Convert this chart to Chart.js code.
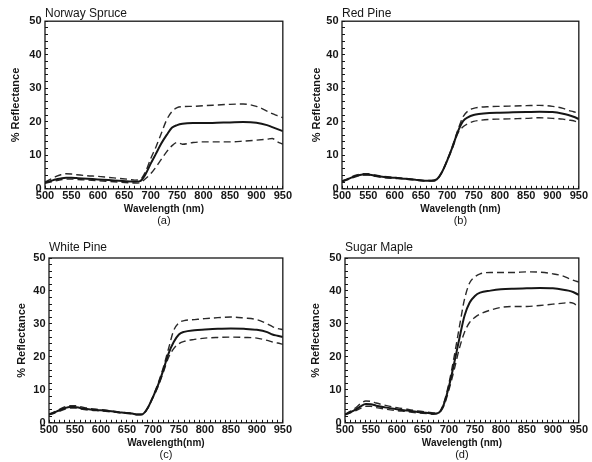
<!DOCTYPE html>
<html><head><meta charset="utf-8">
<script src="https://cdn.jsdelivr.net/npm/chart.js@4.4.0/dist/chart.umd.min.js"></script>
<style>
html,body{margin:0;padding:0;background:#fff;}
#wrap{position:relative;width:592px;height:462px;background:#fff;overflow:hidden;}
.panel{position:absolute;width:296px;height:231px;}
canvas{display:block;}
</style></head><body>
<div id="wrap">
<div class="panel" style="left:0;top:0"><canvas id="c0" width="296" height="231"></canvas></div>
<div class="panel" style="left:296px;top:0"><canvas id="c1" width="296" height="231"></canvas></div>
<div class="panel" style="left:0;top:231px"><canvas id="c2" width="296" height="231"></canvas></div>
<div class="panel" style="left:296px;top:231px"><canvas id="c3" width="296" height="231"></canvas></div>
</div>
<script>
// ---- data ----
const wavelength = [500,510,520,530,540,550,560,580,600,620,640,660,670,680,690,700,710,720,730,740,750,760,780,800,825,850,875,900,920,930,940,950];

const spruceMean  = [1.9,2.3,2.8,3.1,3.3,3.3,3.2,3.0,2.8,2.6,2.4,2.2,2.1,2.3,4.3,7.5,10.5,13.5,16,18.2,19.0,19.4,19.6,19.6,19.7,19.8,19.9,19.7,19.0,18.4,17.8,17.2];
const spruceUpper = [2.0,2.8,3.6,4.2,4.5,4.4,4.2,3.9,3.7,3.4,3.1,2.8,2.6,2.8,5,9,12.5,16.5,20.5,23,24.2,24.5,24.6,24.8,25.0,25.2,25.3,24.6,23.2,22.4,21.8,21.2];
const spruceLower = [1.6,2.0,2.4,2.7,2.9,2.9,2.8,2.6,2.4,2.2,2.0,1.8,1.7,1.8,3,4.5,6.5,8.8,11,12.8,13.8,13.3,13.8,14,14,14,14.2,14.5,14.8,15,14,13.3];

const redMean  = [2.2,2.8,3.5,4.0,4.3,4.3,4.0,3.5,3.3,3.0,2.7,2.4,2.4,2.8,5,8.5,12.5,17,20.2,21.4,22,22.3,22.6,22.7,22.8,22.9,23.0,22.9,22.4,22,21.5,20.8];
const redUpper = [2.3,2.9,3.7,4.2,4.5,4.5,4.2,3.7,3.4,3.1,2.8,2.5,2.5,2.8,5,8.6,12.8,17.5,21.5,23.3,24,24.3,24.5,24.6,24.7,24.8,24.9,24.6,24,23.4,23,22.5];
const redLower = [2.1,2.7,3.3,3.8,4.1,4.1,3.8,3.3,3.1,2.9,2.6,2.3,2.3,2.7,4.9,8.4,12.2,16.5,18.5,19.5,20.1,20.4,20.7,20.8,20.9,21.0,21.2,21.0,20.8,20.5,20.3,19.6];

const whiteMean  = [2.5,3.1,3.8,4.4,4.8,4.8,4.5,4.0,3.8,3.5,3.1,2.8,2.5,2.6,4.5,7.8,11.5,16,21,24.5,26.8,27.6,28.1,28.3,28.5,28.6,28.5,28.2,27.5,26.8,26.4,26.0];
const whiteUpper = [2.6,3.3,4.1,4.8,5.2,5.2,4.9,4.3,4.0,3.6,3.2,2.9,2.6,2.6,4.6,8,12,16.8,22.5,28,30.3,31,31.3,31.6,31.9,32.1,31.8,31.3,30,29.2,28.6,28.3];
const whiteLower = [2.4,2.9,3.5,4.1,4.5,4.5,4.2,3.8,3.6,3.3,3.0,2.7,2.4,2.5,4.4,7.6,11,15.3,19.8,22.5,24,24.7,25.3,25.7,25.9,26.0,25.9,25.7,25,24.5,24.2,23.8];

const mapleMean  = [2.5,3.2,4.0,5.0,5.7,5.6,5.2,4.6,4.1,3.7,3.3,3.0,2.8,3.0,5.5,11,18,25.5,32.5,36.5,38.5,39.5,40.1,40.5,40.7,40.8,40.9,40.8,40.4,40.1,39.6,38.8];
const mapleUpper = [2.6,3.5,4.5,5.8,6.6,6.5,6.0,5.2,4.6,4.1,3.6,3.2,3.0,3.1,6,12,20,29,37.5,42.5,44.3,45.2,45.6,45.6,45.6,45.8,45.7,45.2,44.5,43.8,43.2,42.7];
const mapleLower = [2.4,3.0,3.6,4.4,5.0,5.0,4.6,4.1,3.7,3.4,3.0,2.8,2.6,2.9,5,10,16,22.5,27.5,30.5,32,33,34.2,35,35.3,35.3,35.6,36,36.3,36.5,36.2,35];

const panelTitles = ['Norway Spruce','Red Pine','White Pine','Sugar Maple'];
const panelLetters = ['(a)','(b)','(c)','(d)'];
const xAxisTitles = ['Wavelength (nm)','Wavelength (nm)','Wavelength(nm)','Wavelength (nm)'];
const yAxisTitle = '% Reflectance';
const xTickLabels = [500,550,600,650,700,750,800,850,900,950];
const yTickLabels = [0,10,20,30,40,50];
const panelSeries = [
  [spruceMean, spruceUpper, spruceLower],
  [redMean, redUpper, redLower],
  [whiteMean, whiteUpper, whiteLower],
  [mapleMean, mapleUpper, mapleLower]
];

// ---- layout (pixels, per panel) ----
const panelLayout = [
  {left:45, right:13, titleTop:6.8, titleBottom:0,   yTitlePad:9.4, padBottom:3},
  {left:46, right:13, titleTop:6.8, titleBottom:0,   yTitlePad:14,  padBottom:3},
  {left:49, right:9,  titleTop:9.8, titleBottom:2.8, yTitlePad:15,  padBottom:0},
  {left:49, right:13, titleTop:9.8, titleBottom:2.8, yTitlePad:13.5,padBottom:0}
];

const FONT = "'Liberation Sans', Arial, sans-serif";
const INK = '#161616';

const framePlugin = {
  id: 'frame',
  afterDatasetsDraw(chart) {
    const {ctx, chartArea: a} = chart;
    ctx.save();
    ctx.strokeStyle = INK;
    ctx.lineWidth = 1.3;
    ctx.strokeRect(a.left, a.top, a.right - a.left, a.bottom - a.top);
    ctx.restore();
  }
};

function makeSet(vals, label, dashed) {
  return {
    label: label,
    data: wavelength.map((w, i) => ({x: w, y: vals[i]})),
    borderColor: dashed ? '#2a2a2a' : INK,
    borderWidth: dashed ? 1.4 : 2,
    borderDash: dashed ? [7, 4] : [],
    pointRadius: 0,
    fill: false,
    cubicInterpolationMode: 'monotone'
  };
}

panelSeries.forEach((series, p) => {
  const lay = panelLayout[p];
  new Chart(document.getElementById('c' + p), {
    type: 'line',
    data: {
      datasets: [
        makeSet(series[0], 'Mean', false),
        makeSet(series[1], 'Mean + 1 SD', true),
        makeSet(series[2], 'Mean - 1 SD', true)
      ]
    },
    options: {
      responsive: false,
      animation: false,
      devicePixelRatio: 1,
      layout: {padding: {left: 0, right: lay.right, top: 0, bottom: lay.padBottom}},
      plugins: {
        legend: {display: false},
        tooltip: {enabled: false},
        title: {
          display: true, text: panelTitles[p], align: 'start', fullSize: false,
          color: INK, font: {family: FONT, size: 12, weight: 'normal'},
          padding: {top: lay.titleTop, bottom: lay.titleBottom}
        },
        subtitle: {
          display: true, text: panelLetters[p], position: 'bottom', fullSize: false,
          color: INK, font: {family: FONT, size: 11, weight: 'normal'},
          padding: {top: 0, bottom: 0}
        }
      },
      scales: {
        x: {
          type: 'linear', min: 500, max: 950,
          border: {display: false},
          grid: {display: true, drawOnChartArea: false, drawTicks: true, tickLength: -3, color: INK, tickColor: INK, tickWidth: 1},
          ticks: {
            stepSize: 10, autoSkip: false, maxRotation: 0, minRotation: 0, padding: 4,
            color: INK, font: {family: FONT, size: 11, weight: 'bold'},
            callback: (v) => xTickLabels.includes(v) ? String(v) : ''
          },
          title: {display: true, text: xAxisTitles[p], color: INK, font: {family: FONT, size: 10, weight: 'bold'}, padding: {top: 0, bottom: 0}},
          afterFit: (s) => { s.height = 26; }
        },
        y: {
          type: 'linear', min: 0, max: 50,
          border: {display: false},
          grid: {display: true, drawOnChartArea: false, drawTicks: true, tickLength: -3, color: INK, tickColor: INK, tickWidth: 1},
          ticks: {
            stepSize: 2, autoSkip: false, padding: 6.5,
            color: INK, font: {family: FONT, size: 11, weight: 'bold'},
            callback: (v) => yTickLabels.includes(v) ? String(v) : ''
          },
          title: {display: true, text: yAxisTitle, color: INK, font: {family: FONT, size: 11, weight: 'bold'}, padding: {top: lay.yTitlePad, bottom: 0}},
          afterFit: (s) => { s.width = lay.left; }
        }
      }
    },
    plugins: [framePlugin]
  });
});
</script>
</body></html>
